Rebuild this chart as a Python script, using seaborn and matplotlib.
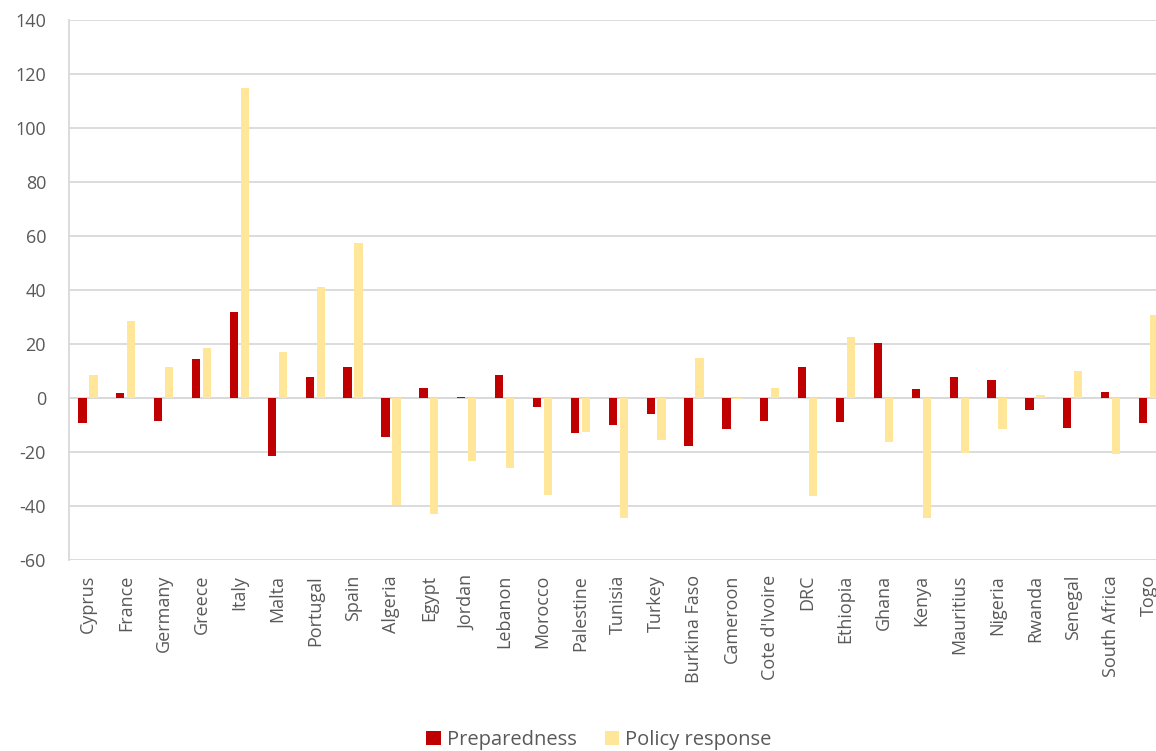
import matplotlib
matplotlib.use("Agg")
import matplotlib.pyplot as plt
import seaborn as sns
import pandas as pd
from matplotlib.patches import Patch

countries = [
    "Cyprus", "France", "Germany", "Greece", "Italy", "Malta", "Portugal", "Spain",
    "Algeria", "Egypt", "Jordan", "Lebanon", "Morocco", "Palestine", "Tunisia", "Turkey",
    "Burkina Faso", "Cameroon", "Cote d'Ivoire", "DRC", "Ethiopia", "Ghana", "Kenya",
    "Mauritius", "Nigeria", "Rwanda", "Senegal", "South Africa", "Togo",
]
preparedness = [
    -9.0, 1.9, -8.3, 14.4, 32.0, -21.4, 7.8, 11.5,
    -14.4, 3.8, 0.5, 8.6, -3.1, -12.7, -10.0, -5.8,
    -17.7, -11.5, -8.5, 11.5, -8.9, 20.4, 3.3,
    8.0, 6.8, -4.2, -10.9, 2.3, -9.1,
]
policy_response = [
    8.6, 28.5, 11.6, 18.8, 115.0, 17.2, 41.4, 57.5,
    -39.5, -43.0, -23.1, -25.8, -35.7, -12.3, -44.3, -15.4,
    15.1, -0.4, 3.8, -36.2, 22.7, -16.2, -44.4,
    -20.3, -11.4, 1.1, 10.0, -20.7, 30.7,
]
series_names = ["Preparedness", "Policy response"]
colors = ["#C00000", "#FFE699"]

df = pd.DataFrame({
    "country": countries * 2,
    "series": [series_names[0]] * len(countries) + [series_names[1]] * len(countries),
    "value": preparedness + policy_response,
})

sns.set_theme(style="white")
plt.rcParams["font.family"] = ["Open Sans", "DejaVu Sans"]
plt.rcParams["axes.unicode_minus"] = False

fig = plt.figure(figsize=(11.56, 7.51), dpi=100)
n = len(countries)
step_px = 37.88
left_px = 69.0
right_px = left_px + step_px * n  # the last category runs past the right edge
ax = fig.add_axes([left_px / 1156, (751 - 560.3) / 751,
                   (right_px - left_px) / 1156, 540 / 751])

sns.barplot(data=df, x="country", y="value", hue="series", order=countries,
            hue_order=series_names, palette=colors, saturation=1,
            width=0.58, gap=0.245, linewidth=0, errorbar=None,
            ax=ax, legend=False, zorder=3)

ax.set_xlim(-0.5, n - 0.5)
ax.set_ylim(-60, 140)
ax.set_yticks(range(-60, 141, 20))
ax.yaxis.grid(True, color="#D9D9D9", linewidth=1.3, zorder=0)
ax.set_axisbelow(True)
ax.axhline(0, color="#D9D9D9", linewidth=1.3, zorder=1)

for s in ["top", "right", "bottom"]:
    ax.spines[s].set_visible(False)
ax.spines["left"].set_color("#D9D9D9")
ax.spines["left"].set_linewidth(1.3)

ax.set_xlabel("")
ax.set_ylabel("")
ax.tick_params(axis="both", length=0, labelsize=13, labelcolor="#595959")
ax.tick_params(axis="x", pad=10.5)
ax.tick_params(axis="y", pad=16.5)
plt.setp(ax.get_xticklabels(), rotation=90)

handles = [Patch(facecolor=c, edgecolor="none") for c in colors]
fig.legend(handles, series_names, loc="center", bbox_to_anchor=(0.518, 0.014),
           ncol=2, frameon=False, fontsize=14.5, labelcolor="#595959",
           handlelength=0.7, handleheight=0.7, handletextpad=0.3,
           columnspacing=1.4)

fig.savefig("out.png", dpi=100)
